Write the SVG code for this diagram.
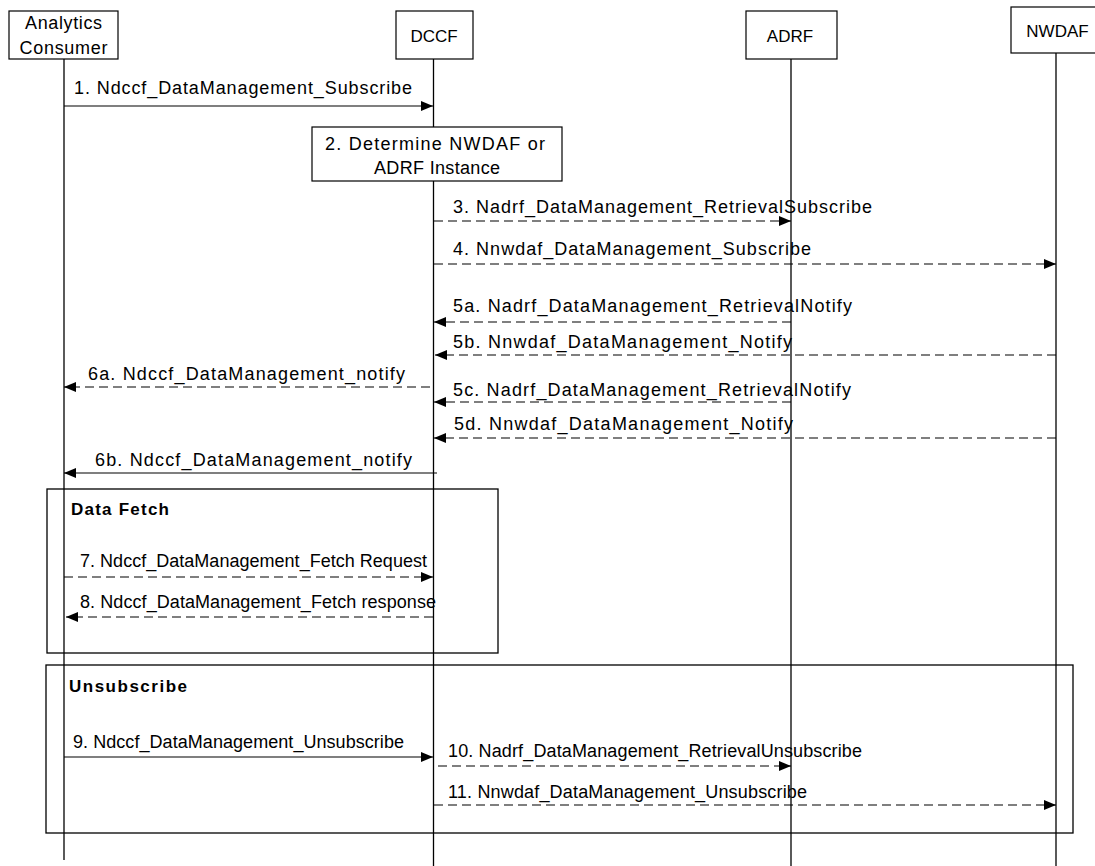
<svg xmlns="http://www.w3.org/2000/svg" width="1095" height="866" viewBox="0 0 1095 866">
<defs>
<marker id="ah" markerWidth="12" markerHeight="10" refX="12" refY="5" orient="auto" markerUnits="userSpaceOnUse">
<path d="M0,0 L12,5 L0,10 z" fill="#000"/>
</marker>
<style>
.box{fill:#fff;stroke:#000;stroke-width:1.2}
.life{stroke:#000;stroke-width:1.3;fill:none}
.frame{fill:none;stroke:#000;stroke-width:1.3}
.msg{stroke:#000;stroke-width:1.2;fill:none;marker-end:url(#ah)}
.dash{stroke-dasharray:9,5}
text{font-family:"Liberation Sans",Arial,sans-serif;font-size:18px;fill:#000}
.c{text-anchor:middle}
.n{font-size:17px}
.b{font-weight:bold;font-size:17px}
</style>
</defs>
<rect width="1095" height="866" fill="#fff"/>

<g id="lifelines">
<line class="life" x1="64" y1="59" x2="64" y2="860"/>
<line class="life" x1="433.5" y1="59" x2="433.5" y2="866"/>
<line class="life" x1="791" y1="59" x2="791" y2="866"/>
<line class="life" x1="1056" y1="53" x2="1056" y2="866"/>
</g>

<g id="node-analytics-consumer">
<rect class="box" x="9" y="11" width="109" height="48"/>
<text class="c" x="63.5" y="29" textLength="77">Analytics</text>
<text class="c" x="63.5" y="54" textLength="88">Consumer</text>
</g>
<g id="node-dccf">
<rect class="box" x="396" y="11" width="77" height="48"/>
<text class="c n" x="434" y="42">DCCF</text>
</g>
<g id="node-adrf">
<rect class="box" x="746" y="11" width="91" height="48"/>
<text class="c n" x="790" y="42">ADRF</text>
</g>
<g id="node-nwdaf">
<rect class="box" x="1011" y="7" width="100" height="46"/>
<text class="c n" x="1057.5" y="37">NWDAF</text>
</g>
<g id="node-step2">
<rect class="box" x="312" y="127" width="250" height="54"/>
<text class="c" x="435" y="150" textLength="220">2. Determine NWDAF or</text>
<text class="c" x="437" y="174" textLength="126">ADRF Instance</text>
</g>

<g id="frame-data-fetch">
<rect class="frame" x="47" y="489" width="451" height="164"/>
<text class="b" x="71" y="515" textLength="98">Data Fetch</text>
</g>
<g id="frame-unsubscribe">
<rect class="frame" x="46" y="665" width="1027" height="168"/>
<text class="b" x="69" y="692" textLength="118">Unsubscribe</text>
</g>

<g id="connectors">
<line class="msg" x1="64" y1="106" x2="433" y2="106"/>
<line class="msg dash" x1="434" y1="221" x2="791" y2="221"/>
<line class="msg dash" x1="434" y1="264" x2="1056" y2="264"/>
<line class="msg dash" x1="791" y1="322" x2="434" y2="322"/>
<line class="msg dash" x1="1056" y1="355" x2="435" y2="355"/>
<line class="msg dash" x1="430" y1="387" x2="64" y2="387"/>
<line class="msg dash" x1="791" y1="402" x2="434" y2="402"/>
<line class="msg dash" x1="1056" y1="438" x2="434" y2="438"/>
<line class="msg" x1="437" y1="473" x2="64" y2="473"/>
<line class="msg dash" x1="64" y1="577" x2="433" y2="577"/>
<line class="msg dash" x1="433" y1="617" x2="66" y2="617"/>
<line class="msg" x1="64" y1="757" x2="433" y2="757"/>
<line class="msg dash" x1="438" y1="766" x2="791" y2="766"/>
<line class="msg dash" x1="434" y1="805" x2="1056" y2="805"/>
</g>

<g id="labels">
<text x="74" y="94" textLength="338">1. Ndccf_DataManagement_Subscribe</text>
<text x="453" y="213" textLength="419">3. Nadrf_DataManagement_RetrievalSubscribe</text>
<text x="453" y="255" textLength="358">4. Nnwdaf_DataManagement_Subscribe</text>
<text x="453" y="312" textLength="399">5a. Nadrf_DataManagement_RetrievalNotify</text>
<text x="453" y="348" textLength="339">5b. Nnwdaf_DataManagement_Notify</text>
<text x="88" y="380" textLength="317">6a. Ndccf_DataManagement_notify</text>
<text x="453" y="396" textLength="398">5c. Nadrf_DataManagement_RetrievalNotify</text>
<text x="454" y="430" textLength="339">5d. Nnwdaf_DataManagement_Notify</text>
<text x="95" y="466" textLength="317">6b. Ndccf_DataManagement_notify</text>
<text x="80" y="567" textLength="347">7. Ndccf_DataManagement_Fetch Request</text>
<text x="80" y="608" textLength="356">8. Ndccf_DataManagement_Fetch response</text>
<text x="73" y="748" textLength="331">9. Ndccf_DataManagement_Unsubscribe</text>
<text x="448" y="757" textLength="414">10. Nadrf_DataManagement_RetrievalUnsubscribe</text>
<text x="448" y="798" textLength="359">11. Nnwdaf_DataManagement_Unsubscribe</text>
</g>
</svg>
